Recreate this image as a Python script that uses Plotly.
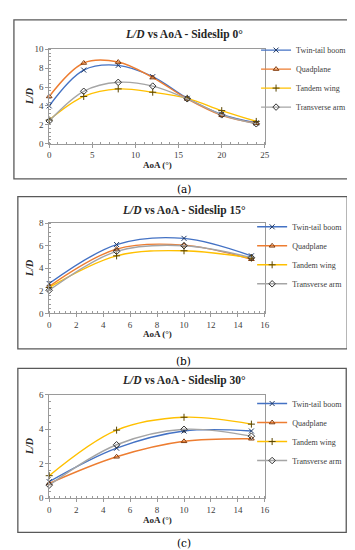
import plotly.graph_objects as go

series_names = ["Twin-tail boom", "Quadplane", "Tandem wing", "Transverse arm"]
line_colors = ["#4472C4", "#ED7D31", "#FFC000", "#A5A5A5"]
marker_colors = ["#1F3864", "#843C0C", "#5A4500", "#333333"]
marker_symbols = ["x-thin-open", "triangle-up-open", "cross-thin-open", "diamond-open"]

# Panel (a): sideslip 0
aoa_a = [0, 4, 8, 12, 16, 20, 24]
twin_a = [4.0, 7.8, 8.3, 7.1, 4.8, 3.1, 2.2]
quad_a = [5.0, 8.55, 8.65, 7.0, 4.75, 3.0, 2.15]
tandem_a = [2.5, 5.0, 5.8, 5.45, 4.8, 3.5, 2.35]
trans_a = [2.4, 5.55, 6.5, 6.1, 4.75, 3.05, 2.1]

# Panels (b), (c): sideslip 15 and 30
aoa_bc = [0, 5, 10, 15]
twin_b = [2.65, 6.1, 6.65, 5.1]
quad_b = [2.4, 5.7, 6.05, 4.8]
tandem_b = [2.3, 5.1, 5.55, 4.9]
trans_b = [2.05, 5.5, 6.0, 4.95]

twin_c = [0.95, 2.9, 3.9, 3.9]
quad_c = [0.85, 2.4, 3.3, 3.45]
tandem_c = [1.3, 3.95, 4.7, 4.3]
trans_c = [0.75, 3.1, 4.0, 3.6]

titles = ["Sideslip 0°", "Sideslip 15°", "Sideslip 30°"]
captions = ["(a)", "(b)", "(c)"]

W, H = 355, 550
SERIF = "Liberation Serif"

def px(x):
    return x / W

def py(y):
    return 1 - y / H

panels = [
    dict(x=aoa_a, ys=[twin_a, quad_a, tandem_a, trans_a], xr=[0, 25], xd=5, xm=1,
         yr=[0, 10], yd=2, ym=0.4, top=37, bot=133, box=(4, 7, 349, 169),
         title_y=22, xt_y=155, cap_y=179, leg_y=23, gap=17, leg_x=251),
    dict(x=aoa_bc, ys=[twin_b, quad_b, tandem_b, trans_b], xr=[0, 16], xd=2, xm=0.4,
         yr=[0, 8], yd=2, ym=0.4, top=214, bot=306, box=(8, 187, 344, 342),
         title_y=201, xt_y=327, cap_y=354, leg_y=203, gap=16, leg_x=247),
    dict(x=aoa_bc, ys=[twin_c, quad_c, tandem_c, trans_c], xr=[0, 16], xd=2, xm=0.4,
         yr=[0, 6], yd=2, ym=0.4, top=389, bot=494, box=(8, 362, 343, 529),
         title_y=374, xt_y=516, cap_y=540, leg_y=383, gap=20, leg_x=247),
]

fig = go.Figure()
layout = dict(
    width=W, height=H, margin=dict(l=0, r=0, t=0, b=0),
    paper_bgcolor="white", plot_bgcolor="white",
    font=dict(family=SERIF, color="#404040"),
    shapes=[], annotations=[],
)

for i, p in enumerate(panels):
    sfx = "" if i == 0 else str(i + 1)
    xa, ya = "x" + sfx, "y" + sfx
    leg = "legend" + sfx
    for j, name in enumerate(series_names):
        fig.add_trace(go.Scatter(
            x=p["x"], y=p["ys"][j], name=name, mode="lines+markers",
            line=dict(color=line_colors[j], width=1.4, shape="spline", smoothing=1.0),
            marker=dict(symbol=marker_symbols[j], size=5, color=marker_colors[j],
                        line=dict(width=1, color=marker_colors[j])),
            xaxis=xa, yaxis=ya, legend=leg, legendgroup=f"{i}-{j}",
            cliponaxis=False,
        ))
    axis_common = dict(showline=True, mirror=True, linecolor="#9a9a9a", linewidth=1,
                       showgrid=False, zeroline=False, ticks="outside", ticklen=3,
                       tickcolor="#9a9a9a", tickfont=dict(family=SERIF, size=9, color="#404040"))
    layout["xaxis" + sfx] = dict(axis_common, domain=[px(40), px(260)], range=p["xr"],
                                 dtick=p["xd"], tick0=0, anchor=ya,
                                 minor=dict(dtick=p["xm"], ticks="inside", ticklen=2,
                                            tickcolor="#9a9a9a"))
    layout["yaxis" + sfx] = dict(axis_common, domain=[py(p["bot"]), py(p["top"])], range=p["yr"],
                                 dtick=p["yd"], tick0=0, anchor=xa,
                                 minor=dict(dtick=p["ym"], ticks="inside", ticklen=2,
                                            tickcolor="#9a9a9a"))
    layout[leg] = dict(x=px(p["leg_x"]), xanchor="left", y=py(p["leg_y"]), yanchor="top",
                       font=dict(family=SERIF, size=8, color="#404040"),
                       bgcolor="rgba(0,0,0,0)", itemwidth=30, tracegroupgap=p["gap"],
                       traceorder="normal")
    x0, y0, x1, y1 = p["box"]
    layout["shapes"].append(dict(type="rect", xref="paper", yref="paper",
                                 x0=px(x0), x1=px(x1), y0=py(y1), y1=py(y0),
                                 line=dict(color="#595959", width=1.3)))
    layout["annotations"] += [
        dict(text=f"<b><i>L/D</i> vs AoA - {titles[i]}</b>", xref="paper", yref="paper",
             x=px(177), y=py(p["title_y"]), showarrow=False, xanchor="center", yanchor="middle",
             font=dict(family=SERIF, size=11.5, color="#262626")),
        dict(text="<b>AoA (°)</b>", xref="paper", yref="paper",
             x=px(150), y=py(p["xt_y"]), showarrow=False, xanchor="center", yanchor="middle",
             font=dict(family=SERIF, size=9, color="#262626")),
        dict(text="<b><i>L/D</i></b>", xref="paper", yref="paper", textangle=-90,
             x=px(20), y=py((p["top"] + p["bot"]) / 2), showarrow=False,
             xanchor="center", yanchor="middle",
             font=dict(family=SERIF, size=10, color="#262626")),
        dict(text=captions[i], xref="paper", yref="paper",
             x=px(177), y=py(p["cap_y"]), showarrow=False, xanchor="center", yanchor="middle",
             font=dict(family="DejaVu Serif", size=10.5, color="#000000")),
    ]

fig.update_layout(**layout)
fig.write_html("out.html")
